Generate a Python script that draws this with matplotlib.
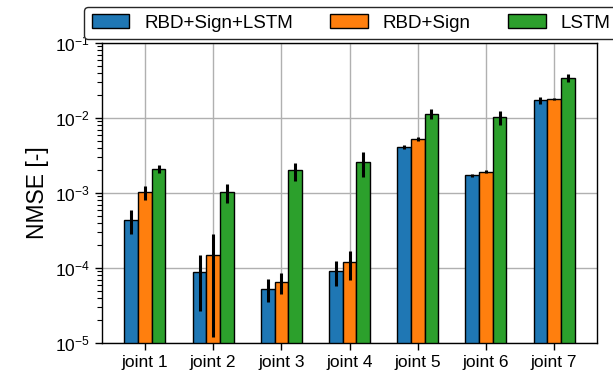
import matplotlib
matplotlib.use("Agg")
import matplotlib.pyplot as plt
import numpy as np

plt.rcParams['font.family'] = ['Liberation Sans', 'DejaVu Sans']
plt.rcParams['mathtext.fontset'] = 'custom'
plt.rcParams['mathtext.rm'] = 'Liberation Sans'
plt.rcParams['mathtext.it'] = 'Liberation Sans:italic'
plt.rcParams['mathtext.bf'] = 'Liberation Sans:bold'

joints = ["joint 1", "joint 2", "joint 3", "joint 4", "joint 5", "joint 6", "joint 7"]
series = ["RBD+Sign+LSTM", "RBD+Sign", "LSTM"]

rbd_sign_lstm = [4.4e-4, 8.8e-5, 5.3e-5, 9.1e-5, 4.1e-3, 1.73e-3, 1.73e-2]
rbd_sign_lstm_err = [1.6e-4, 6.1e-5, 1.8e-5, 3.3e-5, 2.8e-4, 8e-5, 1.9e-3]
rbd_sign = [1.02e-3, 1.5e-4, 6.5e-5, 1.2e-4, 5.2e-3, 1.92e-3, 1.79e-2]
rbd_sign_err = [2.1e-4, 1.38e-4, 2.0e-5, 5.0e-5, 3.0e-4, 1.0e-4, 4e-4]
lstm = [2.1e-3, 1.02e-3, 2.0e-3, 2.6e-3, 1.14e-2, 1.03e-2, 3.45e-2]
lstm_err = [2.8e-4, 2.8e-4, 5.5e-4, 9.5e-4, 1.8e-3, 2.2e-3, 4e-3]

values = [rbd_sign_lstm, rbd_sign, lstm]
errors = [rbd_sign_lstm_err, rbd_sign_err, lstm_err]
colors = ["#1f77b4", "#ff7f0e", "#2ca02c"]

fig = plt.figure(figsize=(6.13, 3.77), dpi=100)
ax = fig.add_axes([102/613, 34/377, 495/613, 300/377])

x = np.arange(len(joints))
width = 0.2
for i, (vals, errs, c, name) in enumerate(zip(values, errors, colors, series)):
    ax.bar(x + (i - 1) * width, vals, width, yerr=errs, color=c, edgecolor='black',
           linewidth=1.0, label=name,
           error_kw=dict(ecolor='black', elinewidth=2.2, capsize=0))

ax.set_yscale('log')
ax.set_ylim(1e-5, 1e-1)
ax.set_xlim(-0.63, 6.63)
ax.set_xticks(x)
ax.set_xticklabels(joints, fontsize=12.5)
ax.tick_params(axis='y', which='major', labelsize=12.5, length=5.2, width=1)
ax.tick_params(axis='y', which='minor', length=3.8, width=0.8)
ax.tick_params(axis='x', which='major', length=5, width=1)
ax.set_ylabel("NMSE [-]", fontsize=16.5)
ax.grid(True, which='major', color='#b0b0b0', linewidth=1)
ax.set_axisbelow(True)
for s in ax.spines.values():
    s.set_linewidth(1)

leg = ax.legend(ncol=3, loc='upper left', bbox_to_anchor=(-0.036, 1.12),
                borderaxespad=0, fontsize=13.5, fancybox=True, framealpha=1,
                edgecolor='0.15')

fig.savefig("out.png", dpi=100)
